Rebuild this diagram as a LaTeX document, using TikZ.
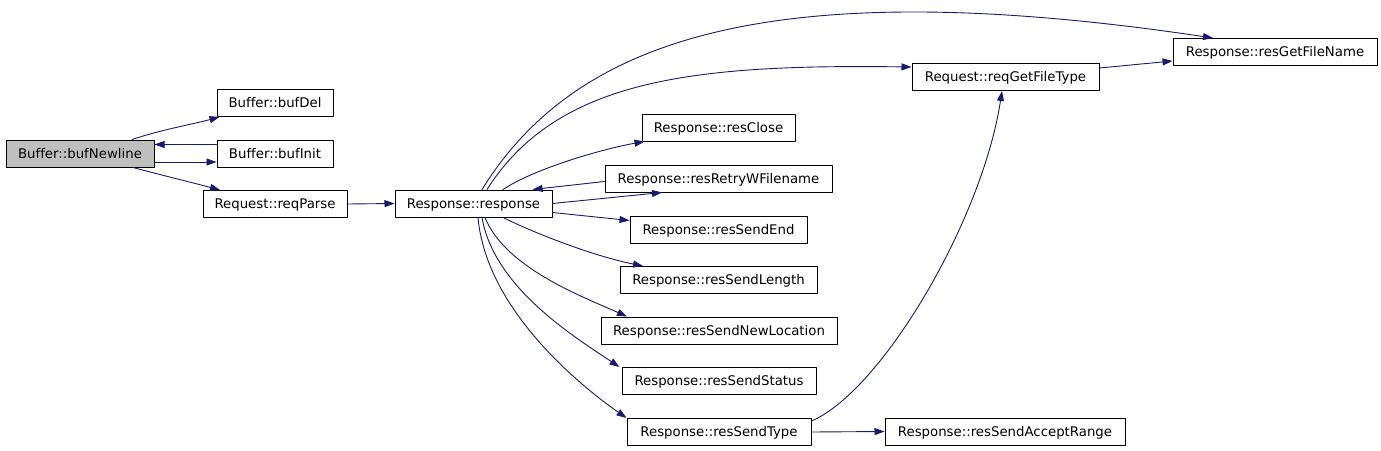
\documentclass[tikz,border=0pt]{standalone}
\usepackage{fontspec}
\setmainfont{DejaVu Sans}[Ligatures=CommonOff]
\usetikzlibrary{arrows.meta}
\definecolor{edgeblue}{HTML}{191970}
\begin{document}
\begin{tikzpicture}[x=1pt,y=-1pt,line cap=round,line join=round,
  font=\fontsize{13.3}{16}\selectfont,
  fn/.style={draw,line width=1pt,inner sep=0pt,minimum height=27pt,text height=12pt,text depth=3pt},
  call/.style={draw=edgeblue,line width=0.9pt,-{Triangle[length=10pt,width=7pt]}}]
  \useasboundingbox (0,0) rectangle (1381,450);
  % callers
  \node[fn,fill=gray!50,minimum width=148pt] (bufNewline) at (80,153.5) {Buffer::bufNewline};
  \node[fn,minimum width=116pt] (bufDel) at (275,103) {Buffer::bufDel};
  \node[fn,minimum width=116pt] (bufInit) at (275,153.5) {Buffer::bufInit};
  \node[fn,minimum width=144pt] (reqParse) at (275,204) {Request::reqParse};
  \node[fn,minimum width=157pt] (response) at (473.5,203.5) {Response::response};
  % response column
  \node[fn,minimum width=153pt] (resClose) at (718.5,127.5) {Response::resClose};
  \node[fn,minimum width=227pt] (resRetryWFilename) at (718.5,178.5) {Response::resRetryWFilename};
  \node[fn,minimum width=177pt] (resSendEnd) at (718.5,229.5) {Response::resSendEnd};
  \node[fn,minimum width=197pt] (resSendLength) at (718.5,280) {Response::resSendLength};
  \node[fn,minimum width=236pt] (resSendNewLocation) at (719,330.5) {Response::resSendNewLocation};
  \node[fn,minimum width=194pt] (resSendStatus) at (719,381) {Response::resSendStatus};
  \node[fn,minimum width=184pt] (resSendType) at (719,432) {Response::resSendType};
  \node[fn,minimum width=240pt] (resSendAcceptRange) at (1005,431.5) {Response::resSendAcceptRange};
  \node[fn,minimum width=187pt] (reqGetFileType) at (1005.5,77) {Request::reqGetFileType};
  \node[fn,minimum width=204pt] (resGetFileName) at (1275,52) {Response::resGetFileName};
  % calls
  \draw[call] ([xshift=52pt]bufNewline.north) .. controls +(30,-10) and +(-30,8) .. ([xshift=3pt]bufDel.south west);
  \draw[call] ([yshift=9pt]bufInit.west) -- ([yshift=9pt]bufNewline.east);
  \draw[call] ([yshift=-8.5pt]bufNewline.east) -- ([yshift=-8.5pt]bufInit.west);
  \draw[call] ([xshift=53pt]bufNewline.south) .. controls +(30,8) and +(-30,-8) .. ([xshift=-55pt]reqParse.north);
  \draw[call] (reqParse.east) -- (response.west);
  \draw[call] ([xshift=8.5pt]response.north) .. controls +(90,-145) and +(-455,-68) .. ([xshift=-62pt]resGetFileName.north);
  \draw[call] ([xshift=13.5pt]response.north) .. controls +(70,-110) and +(-220,-3) .. ([yshift=10pt]reqGetFileType.west);
  \draw[call] ([xshift=29.5pt]response.north) .. controls +(30,-20) and +(-45,8) .. ([xshift=3pt]resClose.south west);
  \draw[call] ([yshift=-3pt]resRetryWFilename.west) -- ([xshift=-20pt]response.north east);
  \draw[call] (response.east) -- ([xshift=-56.5pt]resRetryWFilename.south);
  \draw[call] ([yshift=-9pt]response.east) -- ([yshift=9pt]resSendEnd.west);
  \draw[call] ([xshift=29.5pt]response.south) .. controls +(30,15) and +(-50,-10) .. ([xshift=-75.5pt]resSendLength.north);
  \draw[call] ([xshift=11.5pt]response.south) .. controls +(20,50) and +(-45,-20) .. ([xshift=-92pt]resSendNewLocation.north);
  \draw[call] ([xshift=8.5pt]response.south) .. controls +(12,70) and +(-45,-30) .. ([xshift=-2pt]resSendStatus.north west);
  \draw[call] ([xshift=4.5pt]response.south) .. controls +(8,90) and +(-50,-35) .. (resSendType.north west);
  \draw[call] ([yshift=-3pt]resSendType.north east) .. controls +(70,-30) and +(-20,130) .. ([xshift=-3.5pt]reqGetFileType.south);
  \draw[call] (resSendType.east) -- (resSendAcceptRange.west);
  \draw[call] ([yshift=9pt]reqGetFileType.east) -- ([yshift=-9pt]resGetFileName.west);
\end{tikzpicture}
\end{document}
